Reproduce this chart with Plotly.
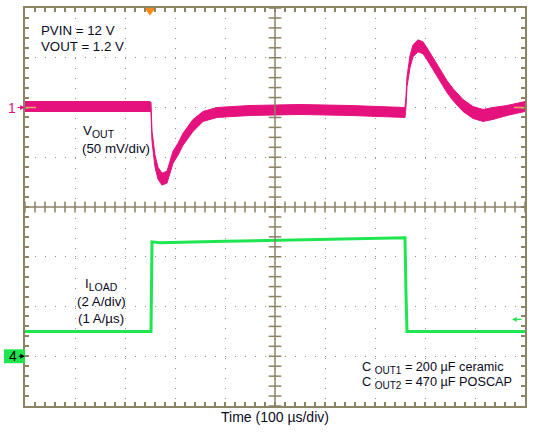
import plotly.graph_objects as go

# ---------------- data ----------------
# Channel 1: VOUT AC deviation (mV), 50 mV/div, reference marker at 6 div from bottom
t_vout = [0, 250, 252, 254, 260, 266, 274, 284, 296, 306, 316, 336, 356, 384, 450, 550, 650, 760,
          762, 764, 770, 776, 786, 796, 804, 816, 830, 844, 856, 876, 896, 916, 936, 964, 1000]
vout_mv = [1, 1, 0, -29, -54, -66, -72, -70, -50, -42, -32, -18, -9, -5, -3, -2, -3, -5,
           6, 26, 46, 57, 62, 60, 54, 44, 32, 21, 13, 2, -5, -8, -6, -3, 1]
vout_noise_mv = [5, 5, 5, 5, 6, 6, 6, 6, 6, 6, 6, 6, 5, 5, 5, 5, 5, 5,
                 5, 5, 6, 6, 6, 6, 6, 6, 6, 6, 6, 6, 6, 6, 6, 5, 5]

# Channel 4: load current (A), 2 A/div, reference marker at 1 div from bottom
t_iload = [0, 252, 254, 262, 270, 400, 550, 700, 760, 762, 764, 1000]
iload_a = [1.0, 1.0, 4.6, 4.58, 4.56, 4.62, 4.68, 4.73, 4.76, 2.5, 1.0, 1.0]

CH1_MV_PER_DIV = 50
CH1_REF_DIV = 6
CH4_A_PER_DIV = 2
CH4_REF_DIV = 1
TRIGGER_US = 250

PINK = "#e5127d"
GREEN = "#1fe650"
GRID = "#8c8264"
TXT = "#0a0a1e"
FONT = "Liberation Sans, Arial, sans-serif"

W, H = 534, 432
L, R, T, B = 25, 9, 6, 26
PW, PH = W - L - R, H - T - B


def px_x(px):  # layout helper: pixel -> data x (us)
    return (px - L) * 1000.0 / PW


def px_y(py):  # layout helper: pixel -> data y (div)
    return (T + PH - py) * 8.0 / PH


def pap_x(px):
    return (px - L) / PW


def pap_y(py):
    return (T + PH - py) / PH


v_up = [CH1_REF_DIV + (v + n) / CH1_MV_PER_DIV for v, n in zip(vout_mv, vout_noise_mv)]
v_lo = [CH1_REF_DIV + (v - n) / CH1_MV_PER_DIV for v, n in zip(vout_mv, vout_noise_mv)]
i_div = [CH4_REF_DIV + a / CH4_A_PER_DIV for a in iload_a]

fig = go.Figure()

# centre cross tick marks
cx_ticks = [k * 20 for k in range(51)]
cy_ticks = [k * 0.2 for k in range(41)]
fig.add_trace(go.Scatter(x=cx_ticks, y=[4] * len(cx_ticks), mode="markers",
                         marker=dict(symbol="line-ns-open", size=8, color=GRID,
                                     line=dict(color=GRID, width=1.5)),
                         hoverinfo="skip", showlegend=False))
fig.add_trace(go.Scatter(x=[500] * len(cy_ticks), y=cy_ticks, mode="markers",
                         marker=dict(symbol="line-ew-open", size=9, color=GRID,
                                     line=dict(color=GRID, width=1.5)),
                         hoverinfo="skip", showlegend=False))

# VOUT noisy band
fig.add_trace(go.Scatter(x=t_vout, y=v_up, mode="lines", line=dict(color=PINK, width=1),
                         showlegend=False, hoverinfo="skip"))
fig.add_trace(go.Scatter(x=t_vout, y=v_lo, mode="lines", line=dict(color=PINK, width=1),
                         fill="tonexty", fillcolor=PINK, showlegend=False, hoverinfo="skip"))

# ILOAD
fig.add_trace(go.Scatter(x=t_iload, y=i_div, mode="lines", line=dict(color=GREEN, width=3),
                         showlegend=False, hoverinfo="skip"))

# trigger marker
fig.add_trace(go.Scatter(x=[TRIGGER_US], y=[px_y(8)], mode="markers", cliponaxis=False,
                         marker=dict(symbol="triangle-down", size=11, color="#ff8c1a"),
                         showlegend=False, hoverinfo="skip"))

axis_common = dict(showticklabels=False, zeroline=False, showline=True, linecolor=GRID,
                   linewidth=1.5, mirror="ticks", ticks="inside", ticklen=4, tickcolor=GRID,
                   tickwidth=1.5, showgrid=True, gridcolor="#9a9278", gridwidth=1,
                   griddash="1px,9px")

fig.update_xaxes(range=[0, 1000], dtick=100, tick0=0,
                 minor=dict(dtick=20, ticks="inside", ticklen=4, tickcolor=GRID, tickwidth=1.5,
                            showgrid=False),
                 **axis_common)
fig.update_yaxes(range=[0, 8], dtick=1, tick0=0,
                 minor=dict(dtick=0.2, ticks="inside", ticklen=4, tickcolor=GRID, tickwidth=1.5,
                            showgrid=False),
                 **axis_common)

shapes = [
    dict(type="line", xref="x", yref="y", x0=500, x1=500, y0=0, y1=8,
         line=dict(color=GRID, width=1.5), layer="above"),
    dict(type="line", xref="x", yref="y", x0=0, x1=1000, y0=4, y1=4,
         line=dict(color=GRID, width=1.5), layer="above"),
    # ch1 reference level ticks
    dict(type="line", xref="paper", yref="y", x0=pap_x(26), x1=pap_x(36), y0=CH1_REF_DIV, y1=CH1_REF_DIV,
         line=dict(color="#f5a070", width=1.5), layer="above"),
    dict(type="line", xref="paper", yref="y", x0=pap_x(514), x1=pap_x(524), y0=CH1_REF_DIV, y1=CH1_REF_DIV,
         line=dict(color="#f5a070", width=1.5), layer="above"),
    # ch4 marker box
    dict(type="rect", xref="paper", yref="paper", x0=pap_x(4), x1=pap_x(25), y0=pap_y(363), y1=pap_y(349),
         fillcolor=GREEN, line=dict(width=0), layer="above"),
]

f13 = dict(family=FONT, size=13.3, color=TXT)
f_c = dict(family=FONT, size=12.7, color=TXT)
SUB = "<sub><span style='font-size:10.5px'>{}</span></sub>"
SUBC = "<sub><span style='font-size:10px'>{}</span></sub>"
ann = [
    dict(x=px_x(39), y=px_y(29), text="PVIN = 12 V", xanchor="left", font=f13),
    dict(x=px_x(39), y=px_y(45), text="VOUT = 1.2 V", xanchor="left", font=f13),
    dict(x=px_x(81), y=px_y(130), text="V" + SUB.format("OUT"), xanchor="left", font=f13),
    dict(x=px_x(80), y=px_y(147), text="(50 mV/div)", xanchor="left", font=f13),
    dict(x=px_x(101), y=px_y(284), text="I" + SUB.format("LOAD"), xanchor="center", font=f13),
    dict(x=px_x(101), y=px_y(301), text="(2 A/div)", xanchor="center", font=f13),
    dict(x=px_x(101), y=px_y(318), text="(1 A/µs)", xanchor="center", font=f13),
    dict(x=px_x(360), y=px_y(368), text="C " + SUBC.format("OUT1") + " = 200 µF ceramic",
         xanchor="left", font=f_c),
    dict(x=px_x(360), y=px_y(383), text="C " + SUBC.format("OUT2") + " = 470 µF POSCAP",
         xanchor="left", font=f_c),
]
annotations = []
for a in ann:
    a.update(xref="x", yref="y", showarrow=False, yanchor="middle")
    annotations.append(a)

annotations.append(dict(xref="paper", yref="paper", x=pap_x(275), y=pap_y(417), text="Time (100 µs/div)",
                        showarrow=False, xanchor="center", yanchor="middle",
                        font=dict(family=FONT, size=14, color=TXT)))
# ch1 marker
annotations.append(dict(xref="x", yref="y", x=0, y=CH1_REF_DIV, text="1", showarrow=True,
                        ax=-13, ay=0, arrowhead=2, arrowsize=0.8, arrowwidth=1.2, arrowcolor=PINK,
                        font=dict(family=FONT, size=14, color=PINK)))
# ch4 marker
annotations.append(dict(xref="x", yref="y", x=0, y=CH4_REF_DIV, text="4", showarrow=True,
                        ax=-12, ay=0, arrowhead=2, arrowsize=0.8, arrowwidth=1.2, arrowcolor="#000000",
                        font=dict(family=FONT, size=14, color="#000000")))
# ch4 right-side arrow
annotations.append(dict(xref="paper", yref="paper", x=pap_x(512), y=pap_y(319), text="", showarrow=True,
                        ax=11, ay=0, arrowhead=2, arrowsize=0.8, arrowwidth=1.2,
                        arrowcolor=GREEN))

fig.update_layout(width=W, height=H, margin=dict(l=L, r=R, t=T, b=B, pad=0),
                  paper_bgcolor="white", plot_bgcolor="white", showlegend=False,
                  shapes=shapes, annotations=annotations, font=dict(family=FONT))

fig.write_html("out.html", config={"displayModeBar": False},
               post_script="document.body.style.margin='0px';")
